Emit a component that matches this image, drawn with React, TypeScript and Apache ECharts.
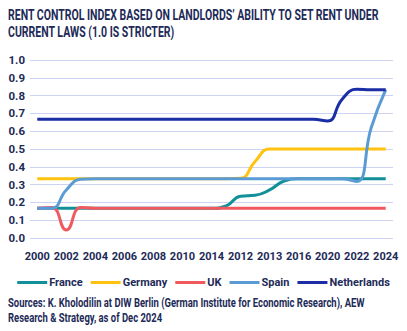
import React, { useEffect, useRef } from "react";
import * as echarts from "echarts";

const categories = [
  "2000", "2001", "2002", "2003", "2004", "2005", "2006", "2007", "2008", "2009",
  "2010", "2011", "2014", "2015", "2012", "2017", "2013", "2018", "2016", "2019",
  "2020", "2021", "2022", "2023", "2024",
];

const france = [0.167, 0.167, 0.167, 0.167, 0.167, 0.167, 0.167, 0.167, 0.167, 0.167, 0.167, 0.167, 0.167, 0.18, 0.235, 0.24, 0.27, 0.32, 0.333, 0.333, 0.333, 0.333, 0.333, 0.333, 0.333];
const germany = [0.333, 0.333, 0.333, 0.333, 0.333, 0.333, 0.333, 0.333, 0.333, 0.333, 0.333, 0.333, 0.333, 0.333, 0.335, 0.43, 0.5, 0.5, 0.5, 0.5, 0.5, 0.5, 0.5, 0.5, 0.5];
const uk = [0.167, 0.172, 0.045, 0.172, 0.167, 0.167, 0.167, 0.167, 0.167, 0.167, 0.167, 0.167, 0.167, 0.167, 0.167, 0.167, 0.167, 0.167, 0.167, 0.167, 0.167, 0.167, 0.167, 0.167, 0.167];
const spain = [0.167, 0.167, 0.27, 0.33, 0.333, 0.333, 0.333, 0.333, 0.333, 0.333, 0.333, 0.333, 0.333, 0.333, 0.333, 0.333, 0.333, 0.333, 0.333, 0.333, 0.333, 0.333, 0.318, 0.62, 0.833];
const netherlands = [0.667, 0.667, 0.667, 0.667, 0.667, 0.667, 0.667, 0.667, 0.667, 0.667, 0.667, 0.667, 0.667, 0.667, 0.667, 0.667, 0.667, 0.667, 0.667, 0.667, 0.658, 0.78, 0.835, 0.833, 0.833];

const seriesNames = ["France", "Germany", "UK", "Spain", "Netherlands"];
const seriesColors = ["#12909a", "#ffc20e", "#f05a5f", "#5b9bd5", "#1b2ea6"];
const seriesData = [france, germany, uk, spain, netherlands];

const titleLines = [
  "RENT CONTROL INDEX BASED ON LANDLORDS\u2019 ABILITY TO SET RENT UNDER",
  "CURRENT LAWS (1.0 IS STRICTER)",
];
const sourceLines = [
  "Sources: K. Kholodilin at DIW Berlin (German Institute for Economic Research), AEW",
  "Research & Strategy, as of Dec 2024",
];

const FONT = "Roboto, 'Noto Sans', sans-serif";
const NAVY = "#1d2a57";

function measure(text: string, font: string): number {
  const c = document.createElement("canvas").getContext("2d");
  if (!c) return text.length * 7;
  c.font = font;
  return c.measureText(text).width;
}

export default function App() {
  const ref = useRef<HTMLDivElement>(null);
  useEffect(() => {
    if (!ref.current) return;
    const chart = echarts.init(ref.current, undefined, { renderer: "svg" });
    const titleFont = `bold 14px ${FONT}`;
    const titleScale = 372 / measure(titleLines[0], titleFont);
    const srcFont = `bold 12.5px ${FONT}`;
    const srcScale = 357 / measure(sourceLines[0], srcFont);
    const textEl = (text: string, x: number, y: number, font: string, sx: number) => ({
      type: "text",
      x,
      y,
      scaleX: sx,
      style: { text, fill: NAVY, font, textVerticalAlign: "middle" },
    });
    chart.setOption({
      animation: false,
      backgroundColor: "#ffffff",
      grid: { left: 30, right: 14, top: 60, bottom: 93, containLabel: false },
      xAxis: {
        type: "category",
        data: categories,
        boundaryGap: true,
        axisLine: { show: false },
        axisTick: { show: false },
        axisLabel: { interval: 1, color: NAVY, fontFamily: FONT, fontSize: 11, fontWeight: "bold", margin: 13 },
        splitLine: { show: false },
      },
      yAxis: {
        type: "value",
        min: 0,
        max: 1,
        interval: 0.1,
        axisLine: { show: false },
        axisTick: { show: false },
        axisLabel: {
          color: NAVY, fontFamily: FONT, fontSize: 11.5, fontWeight: "bold", margin: 5,
          formatter: (v: number) => v.toFixed(1),
        },
        splitLine: { lineStyle: { color: "#cdd2f2", width: 1 } },
      },
      legend: {
        top: 272,
        left: "center",
        icon: "rect",
        itemWidth: 30,
        itemHeight: 3,
        itemGap: 8,
        textStyle: { color: NAVY, fontFamily: FONT, fontSize: 11, fontWeight: "bold", padding: [0, 0, 0, -3] },
        data: seriesNames,
      },
      graphic: [
        textEl(titleLines[0], 8, 15, titleFont, titleScale),
        textEl(titleLines[1], 8, 32, titleFont, titleScale),
        textEl(sourceLines[0], 8, 303, srcFont, srcScale),
        textEl(sourceLines[1], 8, 318, srcFont, srcScale),
      ],
      series: seriesNames.map((name, i) => ({
        name,
        type: "line",
        data: seriesData[i],
        smooth: 0.5,
        symbol: "none",
        lineStyle: { width: 3, color: seriesColors[i] },
        itemStyle: { color: seriesColors[i] },
        z: 2 + i,
      })),
    });
    return () => chart.dispose();
  }, []);
  return <div ref={ref} style={{ position: "fixed", left: 0, top: 0, width: 407, height: 331 }} />;
}
